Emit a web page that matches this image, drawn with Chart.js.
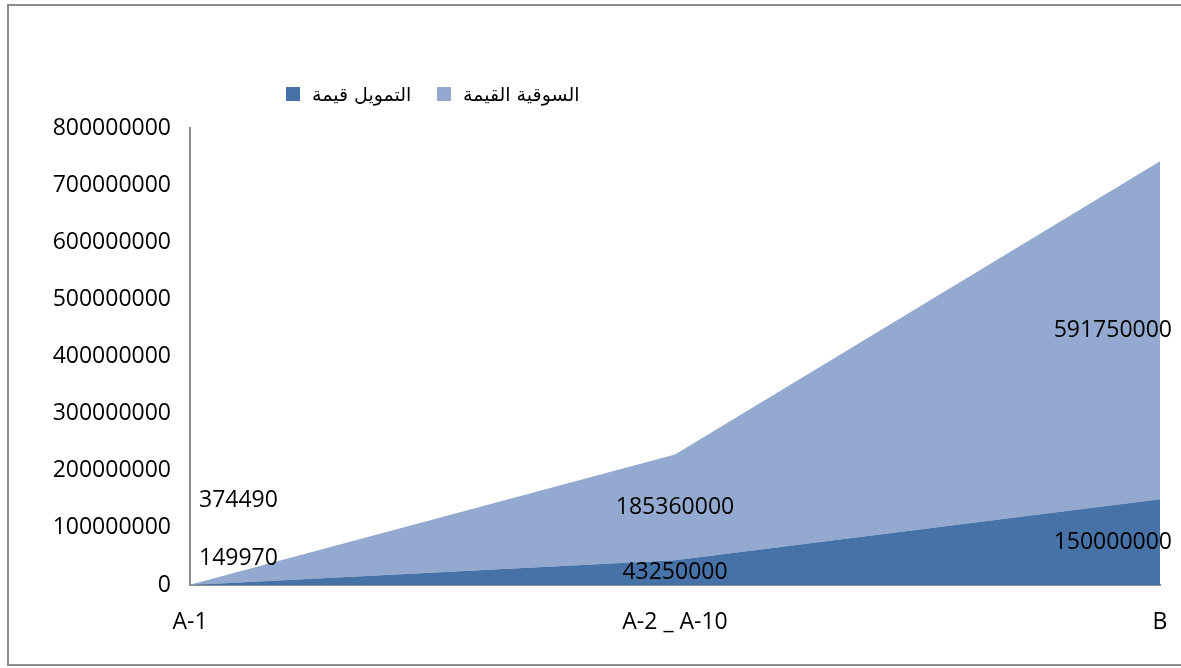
<!DOCTYPE html>
<html>
<head>
<meta charset="utf-8">
<script src="https://cdn.jsdelivr.net/npm/chart.js@4.4.0/dist/chart.umd.min.js"></script>
<style>
  html, body { margin:0; padding:0; background:#fff; overflow:hidden; }
  #wrap { position:relative; width:1181px; height:668px; overflow:hidden; }
  #frame { position:absolute; left:7px; top:4px; width:1200px; height:662px; border:2px solid #8c8c8c; box-sizing:border-box; pointer-events:none; }
  .item { position:absolute; top:83px; display:flex; align-items:center; font-family:"DejaVu Sans", sans-serif; font-size:19px; color:#000; white-space:nowrap; }
  .sw { width:14px; height:14px; display:inline-block; margin-right:12px; }
</style>
</head>
<body>
<div id="wrap">
  <canvas id="c" width="1181" height="668"></canvas>
  <div id="frame"></div>
</div>
<script>
const categories = ["A-1", "A-2 _ A-10", "B"];
const seriesNames = ["التمويل قيمة", "السوقية القيمة"];
const financingValue = [149970, 43250000, 150000000];
const marketValue = [374490, 185360000, 591750000];
const yTicks = [0, 100000000, 200000000, 300000000, 400000000, 500000000, 600000000, 700000000, 800000000];

const colors = ["#4672A8", "#93A9CF"];
const FONT = "'Open Sans', sans-serif";

const wrap = document.getElementById('wrap');
const legendLefts = [286, 437];
seriesNames.forEach((n, i) => {
  const it = document.createElement('div');
  it.className = 'item';
  it.style.left = legendLefts[i] + 'px';
  const sw = document.createElement('span');
  sw.className = 'sw';
  sw.style.background = colors[i];
  const t = document.createElement('span');
  t.textContent = n;
  it.appendChild(sw); it.appendChild(t);
  wrap.appendChild(it);
});

const labelPlugin = {
  id: 'areaLabels',
  afterDatasetsDraw(chart) {
    const ctx = chart.ctx;
    const xs = chart.scales.x, ys = chart.scales.y;
    const firstOffsets = [-27, -84];
    ctx.save();
    ctx.font = "23px " + FONT;
    ctx.fillStyle = "#000";
    ctx.textBaseline = 'middle';
    const n = categories.length;
    chart.data.datasets.forEach((ds, di) => {
      ds.data.forEach((v, i) => {
        let base = 0;
        for (let k = 0; k < di; k++) base += chart.data.datasets[k].data[i];
        const x = xs.getPixelForValue(i);
        let y = ys.getPixelForValue(base + v / 2);
        let tx = x;
        if (i === 0) { ctx.textAlign = 'left'; tx = x + 9; y += firstOffsets[di]; }
        else if (i === n - 1) { ctx.textAlign = 'right'; tx = x + 12; }
        else { ctx.textAlign = 'center'; }
        ctx.fillText(String(v), tx, y);
      });
    });
    ctx.restore();
  }
};

new Chart(document.getElementById('c'), {
  type: 'line',
  data: {
    labels: categories,
    datasets: [
      { label: seriesNames[0], data: financingValue, backgroundColor: colors[0], borderWidth: 0, pointRadius: 0, fill: 'origin', tension: 0 },
      { label: seriesNames[1], data: marketValue, backgroundColor: colors[1], borderWidth: 0, pointRadius: 0, fill: '-1', tension: 0 }
    ]
  },
  options: {
    responsive: false,
    animation: false,
    layout: { padding: { top: 128, right: 21, bottom: 0, left: 0 } },
    plugins: { legend: { display: false }, tooltip: { enabled: false } },
    scales: {
      x: {
        type: 'category',
        offset: false,
        grid: { display: false, drawTicks: false },
        border: { display: true, color: '#8c8c8c', width: 2 },
        ticks: { color: '#000', font: { family: FONT, size: 23 }, padding: 24, maxRotation: 0, autoSkip: false },
        afterFit(s) { s.height = 83; s.paddingLeft = 0; s.paddingRight = 0; }
      },
      y: {
        stacked: true,
        min: 0, max: 800000000,
        grid: { display: false, drawTicks: false },
        border: { display: true, color: '#8c8c8c', width: 2 },
        afterBuildTicks(s) { s.ticks = yTicks.map(v => ({ value: v })); },
        ticks: { color: '#000', font: { family: FONT, size: 23 }, padding: 19, callback: v => String(v) },
        afterFit(s) { s.width = 190; }
      }
    }
  },
  plugins: [labelPlugin]
});
</script>
</body>
</html>
